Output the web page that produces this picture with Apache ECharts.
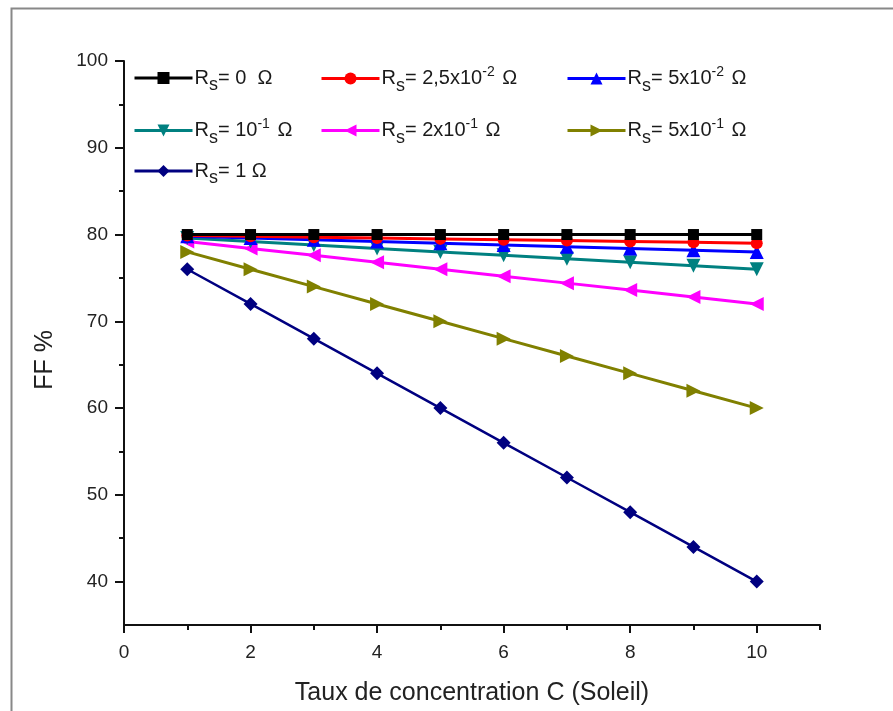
<!DOCTYPE html>
<html>
<head>
<meta charset="utf-8">
<script src="https://cdn.jsdelivr.net/npm/echarts@6/dist/echarts.min.js"></script>
<style>html,body{margin:0;padding:0;background:#fff;}#c{width:893px;height:711px;}</style>
</head>
<body>
<div id="c"></div>
<script>
const concentration = [1, 2, 3, 4, 5, 6, 7, 8, 9, 10];
const ff_rs0 = [80, 80, 80, 80, 80, 80, 80, 80, 80, 80];
const ff_rs0025 = [79.9, 79.8, 79.7, 79.6, 79.5, 79.4, 79.3, 79.2, 79.1, 79.0];
const ff_rs005 = [79.8, 79.6, 79.4, 79.2, 79.0, 78.8, 78.6, 78.4, 78.2, 78.0];
const ff_rs01 = [79.6, 79.2, 78.8, 78.4, 78.0, 77.6, 77.2, 76.8, 76.4, 76.0];
const ff_rs02 = [79.2, 78.4, 77.6, 76.8, 76.0, 75.2, 74.4, 73.6, 72.8, 72.0];
const ff_rs05 = [78, 76, 74, 72, 70, 68, 66, 64, 62, 60];
const ff_rs1 = [76, 72, 68, 64, 60, 56, 52, 48, 44, 40];
const seriesNames = ['Rs=0', 'Rs=2.5e-2', 'Rs=5e-2', 'Rs=1e-1', 'Rs=2e-1', 'Rs=5e-1', 'Rs=1'];
const legendTexts = [
  '{b|R}{s|s}{b|= 0  Ω}',
  '{b|R}{s|s}{b|= 2,5x10}{p|-2}{b| Ω}',
  '{b|R}{s|s}{b|= 5x10}{p|-2}{b| Ω}',
  '{b|R}{s|s}{b|= 10}{p|-1}{b| Ω}',
  '{b|R}{s|s}{b|= 2x10}{p|-1}{b| Ω}',
  '{b|R}{s|s}{b|= 5x10}{p|-1}{b| Ω}',
  '{b|R}{s|s}{b|= 1 Ω}'
];
const xTickLabels = [0, 2, 4, 6, 8, 10];
const yTickLabels = [40, 50, 60, 70, 80, 90, 100];
const yMinorTicks = [45, 55, 65, 75, 85, 95];
const xMinorTicks = [1, 3, 5, 7, 9, 11];
const xTitle = 'Taux de concentration C (Soleil)';
const yTitle = 'FF %';

const dataSets = [ff_rs0, ff_rs0025, ff_rs005, ff_rs01, ff_rs02, ff_rs05, ff_rs1];
const colors = ['#000000', '#ff0000', '#0000ff', '#008080', '#ff00ff', '#808000', '#000080'];
const symbols = ['rect', 'circle', 'triangle', 'triangle', 'triangle', 'triangle', 'diamond'];
const rotations = [0, 0, 0, 180, 90, -90, 0];
const sizes = [11, 12, 14, 14, 14, 14, 14];
const legendPos = [
  [133, 68], [320, 65], [566, 65],
  [133, 117], [320, 117], [566, 117],
  [133, 161]
];

const chart = echarts.init(document.getElementById('c'));
const series = dataSets.map((d, i) => ({
  name: seriesNames[i],
  type: 'line',
  data: concentration.map((c, j) => [c, d[j]]),
  symbol: symbols[i],
  symbolRotate: rotations[i],
  symbolSize: sizes[i],
  itemStyle: { color: colors[i] },
  lineStyle: { color: colors[i], width: i === 6 ? 2.5 : 3 },
  z: 2 + (6 - i)
}));
const FONT = 'Liberation Sans';
const rich = {
  b: { fontSize: 20, color: '#1a1a1a', fontFamily: FONT },
  s: { fontSize: 18, color: '#1a1a1a', fontFamily: FONT, padding: [15, 0, 0, 0] },
  p: { fontSize: 14, color: '#1a1a1a', fontFamily: FONT, padding: [0, 2, 13, 0] }
};
const legends = seriesNames.map((n, i) => ({
  data: [n],
  left: legendPos[i][0],
  top: legendPos[i][1],
  itemWidth: 58,
  itemHeight: 15,
  itemGap: 2,
  padding: 0,
  lineStyle: { width: 3 },
  formatter: () => legendTexts[i],
  textStyle: { rich: rich, padding: [0, 0, 0, -3] }
}));
const axisFont = { fontFamily: FONT, fontSize: 19, color: '#222' };
const option = {
  animation: false,
  backgroundColor: '#fff',
  graphic: [{
    type: 'rect', left: 9, top: 6,
    shape: { width: 900, height: 720 },
    style: { fill: 'none', stroke: '#888', lineWidth: 2 }
  }, {
    type: 'text', x: 45, y: 360, rotation: Math.PI / 2,
    style: { text: yTitle, font: '25px "Liberation Sans"', fill: '#222', align: 'center', verticalAlign: 'middle' }
  }],
  legend: legends,
  grid: { left: 124, top: 61, right: 73, bottom: 85 },
  xAxis: [{
    type: 'value', min: 0, max: 11, interval: 1,
    name: xTitle,
    nameLocation: 'middle', nameGap: 56,
    nameTextStyle: { fontFamily: FONT, fontSize: 25, color: '#222' },
    axisLine: { onZero: false, lineStyle: { color: '#111', width: 2 } },
    axisTick: { customValues: xTickLabels, length: 8, lineStyle: { color: '#111', width: 2 } },
    axisLabel: Object.assign({ customValues: xTickLabels, margin: 18 }, axisFont),
    splitLine: { show: false }
  }, {
    type: 'value', min: 0, max: 11, position: 'bottom',
    axisLine: { show: false },
    axisTick: { customValues: xMinorTicks, length: 5, lineStyle: { color: '#111', width: 2 } },
    axisLabel: { show: false },
    splitLine: { show: false }
  }],
  yAxis: [{
    type: 'value', min: 35, max: 100, interval: 5,
    axisLine: { show: true, onZero: false, lineStyle: { color: '#111', width: 2 } },
    axisTick: { show: true, customValues: yTickLabels, length: 9, lineStyle: { color: '#111', width: 2 } },
    axisLabel: Object.assign({ customValues: yTickLabels, margin: 16 }, axisFont),
    splitLine: { show: false }
  }, {
    type: 'value', min: 35, max: 100, position: 'left',
    axisLine: { show: false },
    axisTick: { show: true, customValues: yMinorTicks, length: 5, lineStyle: { color: '#111', width: 2 } },
    axisLabel: { show: false },
    splitLine: { show: false }
  }],
  series: series
};
chart.setOption(option);
</script>
</body>
</html>
